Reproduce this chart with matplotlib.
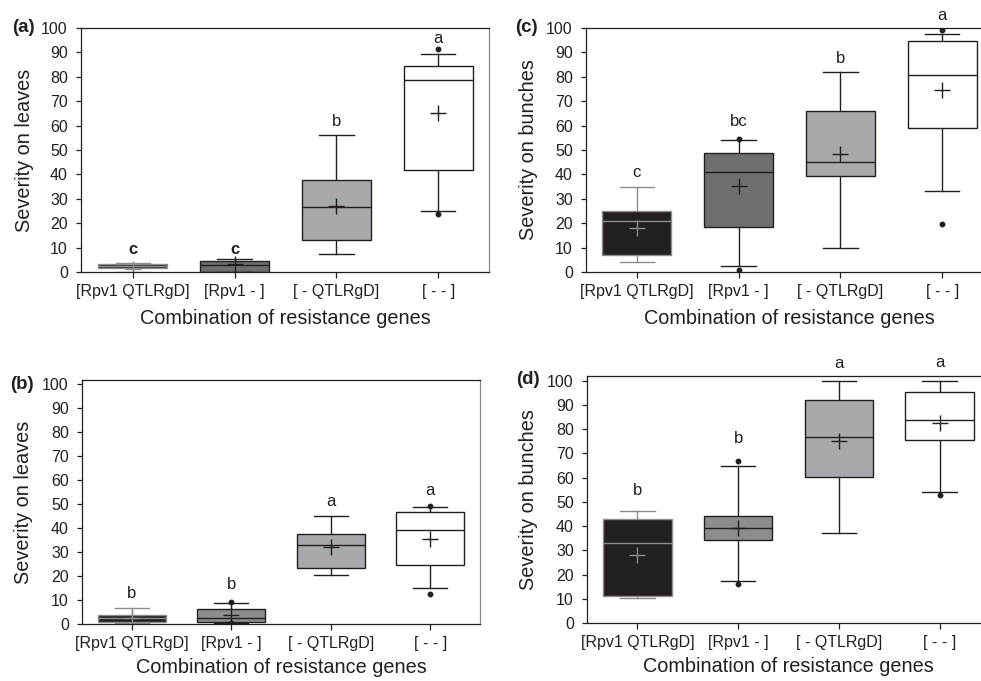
import numpy as np
import matplotlib
matplotlib.use("Agg")
import matplotlib.pyplot as plt

plt.rcParams["font.family"] = ["Liberation Sans", "DejaVu Sans"]

groups = ["[Rpv1 QTLRgD]", "[Rpv1 - ]", "[ - QTLRgD]", "[ - - ]"]
xlabel = "Combination of resistance genes"

# (a) severity on leaves
a_q1 = [1.7, 0.2, 13.2, 41.7]
a_med = [2.5, 3.0, 26.8, 78.7]
a_q3 = [3.2, 4.6, 37.6, 84.3]
a_lo = [0.2, 0.1, 7.5, 25.2]
a_hi = [3.8, 5.2, 56.3, 89.4]
a_mean = [1.2, 3.2, 27.1, 65.0]
a_fliers = [[], [], [], [91.3, 23.7]]
a_letters = ["c", "c", "b", "a"]
a_letter_y = [9.4, 9.4, 61.6, 95.6]

# (b) severity on leaves
b_q1 = [1.0, 1.0, 23.3, 24.4]
b_med = [2.6, 2.4, 33.0, 39.3]
b_q3 = [3.7, 6.1, 37.6, 46.8]
b_lo = [0.5, 0.5, 20.3, 15.1]
b_hi = [6.8, 8.9, 44.9, 48.6]
b_mean = [2.5, 3.7, 32.2, 35.4]
b_fliers = [[], [9.0, 0.3], [], [49.3, 12.5]]
b_letters = ["b", "b", "a", "a"]
b_letter_y = [12.8, 16.3, 51.1, 55.7]

# (c) severity on bunches
c_q1 = [6.8, 18.3, 39.2, 59.0]
c_med = [21.0, 41.0, 45.2, 80.9]
c_q3 = [25.0, 48.9, 66.1, 94.5]
c_lo = [4.0, 2.5, 10.0, 33.2]
c_hi = [34.8, 54.2, 82.1, 97.4]
c_mean = [18.2, 35.1, 48.5, 74.7]
c_fliers = [[], [54.5, 0.7], [], [99.0, 19.7]]
c_letters = ["c", "bc", "b", "a"]
c_letter_y = [40.7, 61.5, 87.7, 105.2]

# (d) severity on bunches
d_q1 = [11.3, 34.3, 60.2, 75.5]
d_med = [33.0, 39.1, 76.9, 83.9]
d_q3 = [43.0, 44.2, 92.2, 95.5]
d_lo = [10.6, 17.3, 37.1, 54.1]
d_hi = [46.2, 64.8, 100.0, 100.0]
d_mean = [28.2, 39.1, 75.1, 82.6]
d_fliers = [[], [67.0, 16.0], [], [53.0]]
d_letters = ["b", "b", "a", "a"]
d_letter_y = [54.7, 76.0, 106.9, 107.3]

DARK = "#231f20"
LIGHT = "#8c8c8c"


def draw_panel(ax, q1, med, q3, lo, hi, mean, fliers, letters, letter_y,
               fills, ylabel, ytop, tag, tag_xy, n_bold=0):
    stats = []
    for i in range(4):
        stats.append(dict(q1=q1[i], med=med[i], q3=q3[i], whislo=lo[i],
                          whishi=hi[i], mean=mean[i], fliers=fliers[i]))
    pos = np.arange(1, 5)
    art = ax.bxp(stats, positions=pos, widths=0.68, patch_artist=True,
                 showmeans=True, meanline=False,
                 flierprops=dict(marker="o", markersize=3.2, markerfacecolor=DARK,
                                 markeredgecolor=DARK),
                 meanprops=dict(marker="+", markersize=11, markeredgewidth=1.0),
                 manage_ticks=False)
    for i in range(4):
        c = LIGHT if i == 0 else DARK
        art["boxes"][i].set_facecolor(fills[i])
        art["boxes"][i].set_edgecolor(c)
        art["boxes"][i].set_linewidth(1.0)
        art["medians"][i].set_color(c)
        art["medians"][i].set_linewidth(1.0)
        art["means"][i].set_markeredgecolor(c)
        for j in (2 * i, 2 * i + 1):
            art["whiskers"][j].set_color(c)
            art["whiskers"][j].set_linewidth(1.0)
            art["whiskers"][j].set_zorder(1)
            art["caps"][j].set_color(c)
            art["caps"][j].set_linewidth(1.0)
    for i in range(4):
        ax.text(pos[i], letter_y[i], letters[i], ha="center", va="center",
                fontsize=12, color=DARK, clip_on=False,
                fontweight="bold" if i < n_bold else "normal")

    ax.set_xlim(0.5, 4.5)
    ax.set_ylim(0, ytop)
    ax.set_yticks(np.arange(0, 101, 10))
    ax.set_xticks(pos)
    ax.set_xticklabels(groups)
    ax.tick_params(axis="y", direction="out", length=3.5, width=0.9, pad=6,
                   labelsize=11.5, colors=DARK)
    ax.tick_params(axis="x", direction="out", length=4.5, width=0.9, pad=4,
                   labelsize=11.5, colors=DARK)
    for s in ax.spines.values():
        s.set_color(DARK)
        s.set_linewidth(0.9)
    ax.spines["right"].set_color("#8a8a8a")
    ax.set_ylabel(ylabel, fontsize=14.3, color=DARK)
    ax.set_xlabel(xlabel, fontsize=14.3, color=DARK)
    fig.text(tag_xy[0] / W, 1 - tag_xy[1] / H, tag, fontsize=13.5,
             fontweight="bold", ha="center", va="center", color=DARK)


W, H = 981, 681
fig = plt.figure(figsize=(W / 100, H / 100), dpi=100)


def px_axes(left, top, width, height):
    return fig.add_axes([left / W, 1 - (top + height) / H, width / W, height / H])


ax_a = px_axes(81, 28, 408, 244)
ax_c = px_axes(586, 28, 407, 244)
ax_b = px_axes(82, 380, 398, 244)
ax_d = px_axes(587, 376, 403, 247.3)

fill_top = [DARK, "#6d6e70", "#a7a9ac", "white"]
fill_bot = [DARK, "#8c8d8f", "#a7a9ac", "white"]

draw_panel(ax_a, a_q1, a_med, a_q3, a_lo, a_hi, a_mean, a_fliers, a_letters,
           a_letter_y, fill_top, "Severity on leaves", 100, "(a)", (23, 28),
           n_bold=2)
draw_panel(ax_c, c_q1, c_med, c_q3, c_lo, c_hi, c_mean, c_fliers, c_letters,
           c_letter_y, fill_top, "Severity on bunches", 100, "(c)", (526, 28))
draw_panel(ax_b, b_q1, b_med, b_q3, b_lo, b_hi, b_mean, b_fliers, b_letters,
           b_letter_y, fill_bot, "Severity on leaves", 101.7, "(b)", (22, 384))
draw_panel(ax_d, d_q1, d_med, d_q3, d_lo, d_hi, d_mean, d_fliers, d_letters,
           d_letter_y, fill_bot, "Severity on bunches", 101.9, "(d)", (528, 380))

ax_a.set_xlim(0.49, 4.5)
ax_a.yaxis.set_label_coords(-47 / 408, 0.5)
ax_c.yaxis.set_label_coords(-48 / 407, 0.5)
ax_b.yaxis.set_label_coords(-49 / 398, 0.5)
ax_d.yaxis.set_label_coords(-49 / 403, 0.5)
ax_a.xaxis.set_label_coords(0.5, -37 / 244)
ax_c.xaxis.set_label_coords(0.5, -37 / 244)
# bottom row labels sit at the lower edge; keep them just inside the figure
ax_b.xaxis.set_label_coords(0.5, -34 / 244)
ax_d.xaxis.set_label_coords(0.5, -34 / 247.3)

fig.savefig("out.png", dpi=100)
